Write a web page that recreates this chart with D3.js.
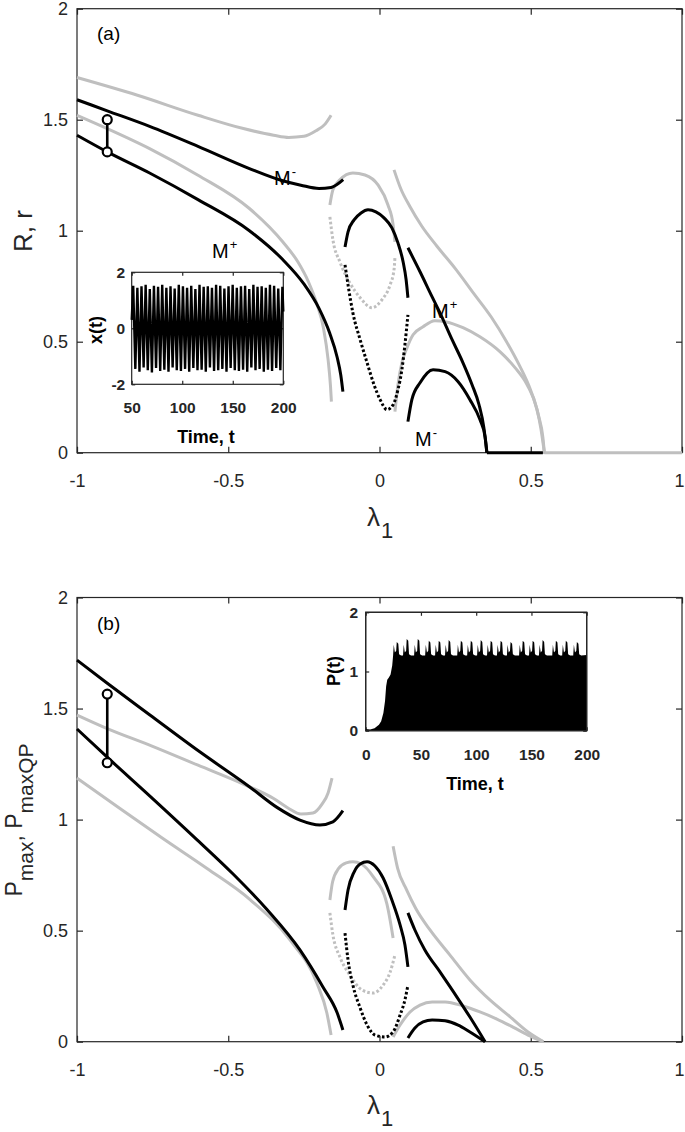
<!DOCTYPE html>
<html>
<head>
<meta charset="utf-8">
<script src="https://cdn.jsdelivr.net/npm/d3@7"></script>
<style>
  body { margin: 0; background: #fff; }
  svg { display: block; }
</style>
</head>
<body>
<svg id="chart" width="685" height="1132"></svg>
<script>
// ---------- axis ticks ----------
const xTicks = [-1, -0.5, 0, 0.5, 1];
const xTickLabels = ["-1", "-0.5", "0", "0.5", "1"];
const yTicks = [0, 0.5, 1, 1.5, 2];
const yTickLabels = ["0", "0.5", "1", "1.5", "2"];

// ---------- panel (a): R, r vs lambda1 ----------
const aGrayTop = [[-1,1.69],[-0.8,1.61],[-0.6,1.52],[-0.45,1.46],[-0.35,1.43],[-0.30,1.42],[-0.25,1.425],[-0.21,1.45],[-0.18,1.48],[-0.16,1.52]];
const aBlackUpper = [[-1,1.59],[-0.9,1.54],[-0.76,1.47],[-0.6,1.38],[-0.43,1.28],[-0.32,1.225],[-0.26,1.205],[-0.20,1.19],[-0.16,1.195],[-0.12,1.23]];
const aGrayMid = [[-1,1.52],[-0.9,1.46],[-0.76,1.37],[-0.6,1.25],[-0.43,1.10],[-0.32,0.95],[-0.27,0.86],[-0.235,0.77],[-0.207,0.67],[-0.185,0.56],[-0.17,0.42],[-0.162,0.30],[-0.159,0.23]];
const aBlackLower = [[-1,1.43],[-0.9,1.355],[-0.76,1.26],[-0.6,1.14],[-0.43,1.00],[-0.32,0.87],[-0.25,0.76],[-0.20,0.65],[-0.165,0.54],[-0.14,0.43],[-0.128,0.35],[-0.121,0.275]];
const aGrayLoop = [[-0.164,1.116],[-0.154,1.184],[-0.131,1.229],[-0.088,1.26],[-0.048,1.251],[-0.005,1.206],[0.028,1.116],[0.045,1.026],[0.051,0.95]];
const aGrayLoopDot = [[-0.164,1.062],[-0.154,0.959],[-0.131,0.86],[-0.098,0.765],[-0.064,0.698],[-0.025,0.653],[0.008,0.689],[0.035,0.756],[0.048,0.824],[0.051,0.878]];
const aBlackLoop = [[-0.114,0.927],[-0.104,0.995],[-0.084,1.049],[-0.061,1.08],[-0.038,1.094],[-0.012,1.085],[0.015,1.058],[0.041,1.013],[0.061,0.945],[0.078,0.86],[0.088,0.779],[0.094,0.698]];
const aBlackLoopDot = [[-0.114,0.846],[-0.104,0.756],[-0.088,0.63],[-0.064,0.509],[-0.041,0.405],[-0.018,0.306],[0.002,0.239],[0.025,0.194],[0.045,0.216],[0.061,0.284],[0.074,0.374],[0.084,0.486],[0.094,0.621]];
const aGrayOuter = [[0.048,1.274],[0.07,1.19],[0.10,1.11],[0.14,1.02],[0.19,0.93],[0.25,0.83],[0.31,0.72],[0.37,0.61],[0.42,0.50],[0.46,0.40],[0.50,0.28],[0.525,0.17],[0.54,0.07],[0.545,0]];
const aGrayFlat = [[0.545,0],[1,0]];
const aBlackSteep = [[0.094,0.923],[0.134,0.815],[0.174,0.702],[0.2,0.63],[0.24,0.509],[0.276,0.405],[0.306,0.306],[0.329,0.216],[0.345,0.113],[0.355,0]];
const aBlackFlat = [[0.355,0],[0.54,0]];
const aBlackArch = [[0.094,0.14],[0.107,0.239],[0.134,0.315],[0.177,0.374],[0.217,0.365],[0.26,0.32],[0.299,0.239],[0.332,0.149],[0.349,0.072],[0.355,0]];
const aGrayArch = [[0.051,0.185],[0.061,0.306],[0.074,0.405],[0.091,0.473],[0.111,0.531],[0.144,0.567],[0.183,0.594],[0.217,0.59],[0.276,0.563],[0.332,0.522],[0.398,0.455],[0.448,0.383],[0.488,0.306],[0.521,0.194],[0.534,0.104],[0.545,0]];
const aCircles = [[-0.9,1.50],[-0.9,1.355]];

// ---------- panel (b): Pmax, PmaxQP vs lambda1 ----------
const bBlackUpper = [[-1,1.718],[-0.901,1.615],[-0.759,1.471],[-0.593,1.304],[-0.428,1.146],[-0.339,1.055],[-0.263,0.998],[-0.197,0.976],[-0.154,0.99],[-0.121,1.04]];
const bGrayUpper = [[-1,1.471],[-0.9,1.41],[-0.75,1.33],[-0.6,1.245],[-0.45,1.16],[-0.35,1.095],[-0.30,1.05],[-0.26,1.025],[-0.22,1.03],[-0.19,1.07],[-0.17,1.12],[-0.157,1.187]];
const bBlackLower = [[-1,1.408],[-0.901,1.282],[-0.759,1.106],[-0.603,0.909],[-0.484,0.755],[-0.372,0.595],[-0.263,0.413],[-0.187,0.246],[-0.14,0.13],[-0.121,0.053]];
const bGrayLower = [[-1,1.187],[-0.858,1.05],[-0.716,0.915],[-0.57,0.78],[-0.428,0.64],[-0.296,0.458],[-0.207,0.264],[-0.174,0.129],[-0.16,0.03]];
const bGrayLoop = [[-0.164,0.638],[-0.155,0.72],[-0.135,0.78],[-0.11,0.805],[-0.088,0.81],[-0.06,0.80],[-0.021,0.743],[0.024,0.623],[0.045,0.467]];
const bGrayLoopDot = [[-0.164,0.58],[-0.154,0.481],[-0.131,0.382],[-0.098,0.3],[-0.058,0.233],[-0.021,0.219],[0.012,0.255],[0.035,0.313],[0.051,0.39]];
const bBlackLoop = [[-0.114,0.593],[-0.104,0.683],[-0.084,0.764],[-0.064,0.80],[-0.041,0.81],[-0.015,0.791],[0.012,0.737],[0.041,0.638],[0.068,0.526],[0.084,0.436],[0.094,0.337]];
const bBlackLoopDot = [[-0.114,0.489],[-0.104,0.368],[-0.088,0.255],[-0.064,0.152],[-0.041,0.075],[-0.015,0.03],[0.018,0.021],[0.045,0.044],[0.068,0.12],[0.084,0.188],[0.094,0.255]];
const bGrayOuter = [[0.045,0.88],[0.06,0.78],[0.09,0.683],[0.12,0.60],[0.167,0.503],[0.233,0.39],[0.299,0.278],[0.365,0.188],[0.431,0.113],[0.491,0.044],[0.542,0]];
const bBlackSteep = [[0.094,0.58],[0.117,0.503],[0.15,0.413],[0.2,0.314],[0.256,0.201],[0.299,0.111],[0.349,0]];
const bBlackArch = [[0.094,0.017],[0.117,0.062],[0.144,0.089],[0.174,0.098],[0.217,0.094],[0.26,0.075],[0.299,0.044],[0.349,0]];
const bGrayArch = [[0.045,0.021],[0.068,0.075],[0.101,0.134],[0.134,0.165],[0.174,0.179],[0.217,0.179],[0.276,0.161],[0.332,0.134],[0.388,0.102],[0.441,0.066],[0.491,0.03],[0.542,0]];
const bCircles = [[-0.9,1.565],[-0.9,1.256]];

// ---------- inset (a): x(t) ----------
const xtPeakT = [51.5,55.6,59.7,63.8,67.9,72.0,76.1,80.2,84.3,88.4,92.5,96.6,100.7,104.8,108.9,113.0,117.1,121.2,125.3,129.4,133.5,137.6,141.7,145.8,149.9,154.0,158.1,162.2,166.3,170.4,174.5,178.6,182.7,186.8,190.9,195.0,199.1];
const xtPeakV = [1.52,1.45,1.50,1.55,1.40,1.52,1.48,1.55,1.45,1.50,1.42,1.55,1.50,1.45,1.52,1.40,1.55,1.48,1.50,1.45,1.55,1.52,1.42,1.50,1.55,1.45,1.50,1.52,1.40,1.55,1.48,1.50,1.45,1.55,1.52,1.42,1.48];
const xtTroughT = [53.6,57.7,61.8,65.9,70.0,74.1,78.2,82.3,86.4,90.5,94.6,98.7,102.8,106.9,111.0,115.1,119.2,123.3,127.4,131.5,135.6,139.7,143.8,147.9,152.0,156.1,160.2,164.3,168.4,172.5,176.6,180.7,184.8,188.9,193.0,197.1];
const xtTroughV = [-1.45,-1.55,-1.40,-1.50,-1.58,-1.42,-1.52,-1.48,-1.55,-1.40,-1.50,-1.52,-1.45,-1.55,-1.42,-1.50,-1.48,-1.55,-1.40,-1.52,-1.50,-1.45,-1.55,-1.42,-1.50,-1.52,-1.48,-1.55,-1.40,-1.50,-1.45,-1.55,-1.48,-1.52,-1.42,-1.50];

// ---------- inset (b): P(t) ----------
const pRiseT = [0, 4, 8, 10, 12, 14, 16, 17.5, 18.5, 19.5, 21, 22.5, 24];
const pRiseP = [0.03, 0.02, 0.04, 0.07, 0.1, 0.16, 0.3, 0.5, 0.75, 0.86, 0.9, 0.95, 1.1];
const pSpikeT = [29, 38, 48, 58, 67, 76, 87, 96, 105, 114, 123, 132, 143, 152, 161, 173, 182, 192];
const pSpikeP = [1.50, 1.55, 1.55, 1.52, 1.52, 1.53, 1.52, 1.52, 1.53, 1.52, 1.52, 1.50, 1.52, 1.52, 1.53, 1.52, 1.52, 1.50];
const pBase = 1.27, pShoulder = 1.45, pEnd = 1.28;

// ---------- drawing ----------
const FONT = '"Liberation Sans", Arial, Helvetica, sans-serif';
const GRAY = "#bfbfbf", BLACK = "#000", AXIS = "#262626";

const svg = d3.select("#chart");
const x = d3.scaleLinear().domain([-1, 1]).range([77, 682]);
const yA = d3.scaleLinear().domain([0, 2]).range([452.7, 8.7]);
const yB = d3.scaleLinear().domain([0, 2]).range([1041.7, 597.5]);

function styleAxis(g, size, weight) {
  g.attr("font-family", FONT).attr("font-size", size).attr("font-weight", weight || null);
  g.select(".domain").remove();
  g.selectAll(".tick line").attr("stroke", AXIS).attr("stroke-width", 1.2);
  g.selectAll(".tick text").attr("fill", AXIS);
}

function drawFrame(xs, ys, xv, xl, yv, yl, o) {
  const g = svg.append("g");
  const [x0, x1] = xs.range(), [y0, y1] = ys.range();
  g.append("rect").attr("x", x0).attr("y", y1).attr("width", x1 - x0).attr("height", y0 - y1)
    .attr("fill", o.fill || "none").attr("stroke", AXIS).attr("stroke-width", 1.2);
  const bottom = g.append("g").attr("transform", `translate(0,${y0})`)
    .call(d3.axisBottom(xs).tickValues(xv).tickSize(-o.tick).tickPadding(o.xpad).tickFormat((d, i) => xl[i]))
    .call(a => styleAxis(a, o.font, o.weight));
  if (o.lastShift) bottom.selectAll(".tick text").filter((d, i) => i === xv.length - 1).attr("dx", o.lastShift);
  g.append("g").attr("transform", `translate(0,${y1})`)
    .call(d3.axisTop(xs).tickValues(xv).tickSize(-o.tick).tickFormat(""))
    .call(a => styleAxis(a, o.font));
  g.append("g").attr("transform", `translate(${x0},0)`)
    .call(d3.axisLeft(ys).tickValues(yv).tickSize(-o.tick).tickPadding(o.ypad).tickFormat((d, i) => yl[i]))
    .call(a => styleAxis(a, o.font, o.weight));
  g.append("g").attr("transform", `translate(${x1},0)`)
    .call(d3.axisRight(ys).tickValues(yv).tickSize(-o.tick).tickFormat(""))
    .call(a => styleAxis(a, o.font));
  return g;
}

function drawCurves(ys, list) {
  const smooth = d3.line().x(d => x(d[0])).y(d => ys(d[1])).curve(d3.curveMonotoneX);
  const g = svg.append("g").attr("fill", "none");
  list.forEach(s => {
    g.append("path").attr("d", smooth(s.data))
      .attr("stroke", s.color).attr("stroke-width", 3)
      .attr("stroke-dasharray", s.dotted ? "2.6,2.2" : null)
      .attr("stroke-linecap", "butt");
  });
}

function drawCircles(ys, pts) {
  const g = svg.append("g");
  g.append("line").attr("x1", x(pts[0][0])).attr("y1", ys(pts[0][1]))
    .attr("x2", x(pts[1][0])).attr("y2", ys(pts[1][1]))
    .attr("stroke", BLACK).attr("stroke-width", 2.6);
  g.selectAll("circle").data(pts).join("circle")
    .attr("cx", d => x(d[0])).attr("cy", d => ys(d[1])).attr("r", 4.5)
    .attr("fill", "#fff").attr("stroke", BLACK).attr("stroke-width", 2.2);
}

function text(xp, yp, parts, opts) {
  const t = svg.append("text").attr("x", xp).attr("y", yp)
    .attr("font-family", FONT).attr("fill", opts.fill || AXIS)
    .attr("font-weight", opts.weight || null)
    .attr("text-anchor", opts.anchor || "start");
  if (opts.rotate) t.attr("transform", `rotate(-90,${xp},${yp})`);
  parts.forEach(p => t.append("tspan").attr("font-size", p.size).attr("dy", p.dy || 0).attr("dx", p.dx || 0).text(p.s));
  return t;
}

function mLabel(xp, yp, sup) {
  text(xp, yp, [{ s: "M", size: 20 }, { s: sup, size: 13, dy: -9, dx: 1 }], { fill: BLACK });
}

const mainOpts = { tick: 6, xpad: 21.5, ypad: 9, font: 18, lastShift: -3 };

// ---- panel (a)
drawFrame(x, yA, xTicks, xTickLabels, yTicks, yTickLabels, mainOpts);
drawCurves(yA, [
  { data: aGrayTop, color: GRAY }, { data: aGrayMid, color: GRAY }, { data: aGrayLoop, color: GRAY },
  { data: aGrayOuter, color: GRAY }, { data: aGrayFlat, color: GRAY }, { data: aGrayArch, color: GRAY },
  { data: aGrayLoopDot, color: GRAY, dotted: true },
  { data: aBlackUpper, color: BLACK }, { data: aBlackLower, color: BLACK }, { data: aBlackLoop, color: BLACK },
  { data: aBlackSteep, color: BLACK }, { data: aBlackFlat, color: BLACK }, { data: aBlackArch, color: BLACK },
  { data: aBlackLoopDot, color: BLACK, dotted: true }
]);
drawCircles(yA, aCircles);
text(97, 40, [{ s: "(a)", size: 19 }], { fill: BLACK });
mLabel(274, 185, "-");
mLabel(212, 258, "+");
mLabel(432, 318, "+");
mLabel(415, 446, "-");
text(32, 231, [{ s: "R, r", size: 26 }], { rotate: true, anchor: "middle" });
text(367, 526, [{ s: "λ", size: 26 }, { s: "1", size: 22, dy: 12, dx: 1 }], {});

// ---- inset (a)
const xIa = d3.scaleLinear().domain([50, 200]).range([131.7, 283.3]);
const yIa = d3.scaleLinear().domain([-2, 2]).range([384.3, 272.3]);
drawFrame(xIa, yIa, [50, 100, 150, 200], ["50", "100", "150", "200"], [-2, 0, 2], ["-2", "0", "2"],
  { tick: 3.5, xpad: 18, ypad: 6.5, font: 15.5, weight: "bold", fill: "#fff" });
const xtSeries = [[50, 0.3]];
xtPeakT.forEach((t, i) => {
  xtSeries.push([t, xtPeakV[i]]);
  if (i < xtTroughT.length) xtSeries.push([xtTroughT[i], xtTroughV[i]]);
});
xtSeries.push([200, 0.6]);
svg.append("path")
  .attr("d", d3.line().x(d => xIa(d[0])).y(d => yIa(d[1]))(xtSeries))
  .attr("fill", "none").attr("stroke", BLACK).attr("stroke-width", 2.4).attr("stroke-linejoin", "miter");
text(206, 443, [{ s: "Time, t", size: 18 }], { anchor: "middle", weight: "bold", fill: BLACK });
text(102, 330, [{ s: "x(t)", size: 18 }], { anchor: "middle", weight: "bold", fill: BLACK, rotate: true });

// ---- panel (b)
drawFrame(x, yB, xTicks, xTickLabels, yTicks, yTickLabels, mainOpts);
drawCurves(yB, [
  { data: bGrayUpper, color: GRAY }, { data: bGrayLower, color: GRAY }, { data: bGrayLoop, color: GRAY },
  { data: bGrayOuter, color: GRAY }, { data: bGrayArch, color: GRAY },
  { data: bGrayLoopDot, color: GRAY, dotted: true },
  { data: bBlackUpper, color: BLACK }, { data: bBlackLower, color: BLACK }, { data: bBlackLoop, color: BLACK },
  { data: bBlackSteep, color: BLACK }, { data: bBlackArch, color: BLACK },
  { data: bBlackLoopDot, color: BLACK, dotted: true }
]);
drawCircles(yB, bCircles);
text(97, 630, [{ s: "(b)", size: 19 }], { fill: BLACK });
text(22, 820, [
  { s: "P", size: 23 }, { s: "max", size: 21, dy: 11 }, { s: ", P", size: 23, dy: -11 }, { s: "maxQP", size: 21, dy: 11 }
], { rotate: true, anchor: "middle" });
text(367, 1114, [{ s: "λ", size: 26 }, { s: "1", size: 22, dy: 12, dx: 1 }], {});

// ---- inset (b)
const xIb = d3.scaleLinear().domain([0, 200]).range([365.7, 586.7]);
const yIb = d3.scaleLinear().domain([0, 2]).range([730.7, 612.3]);
drawFrame(xIb, yIb, [0, 50, 100, 150, 200], ["0", "50", "100", "150", "200"], [0, 1, 2], ["0", "1", "2"],
  { tick: 3.5, xpad: 18, ypad: 7.5, font: 15.5, weight: "bold", fill: "#fff" });
const pEnv = pRiseT.map((t, i) => [t, pRiseP[i]]);
pSpikeT.forEach((tp, i) => {
  const h = pSpikeP[i];
  pEnv.push([tp - 4.2, pBase], [tp - 3.6, pShoulder], [tp - 2.6, pBase + 0.05], [tp - 1.4, pBase + 0.08],
    [tp - 0.9, h], [tp + 0.5, h - 0.03], [tp + 1.2, pBase + 0.02], [tp + 3.0, pBase]);
});
pEnv.push([200, pEnd]);
svg.append("path")
  .attr("d", d3.area().x(d => xIb(d[0])).y0(yIb(0)).y1(d => yIb(d[1]))(pEnv))
  .attr("fill", BLACK);
svg.append("rect").attr("x", 365.7).attr("y", 612.3).attr("width", 221).attr("height", 118.4)
  .attr("fill", "none").attr("stroke", AXIS).attr("stroke-width", 1.2);
text(475, 790, [{ s: "Time, t", size: 18 }], { anchor: "middle", weight: "bold", fill: BLACK });
text(340, 671, [{ s: "P(t)", size: 18 }], { anchor: "middle", weight: "bold", fill: BLACK, rotate: true });
</script>
</body>
</html>
